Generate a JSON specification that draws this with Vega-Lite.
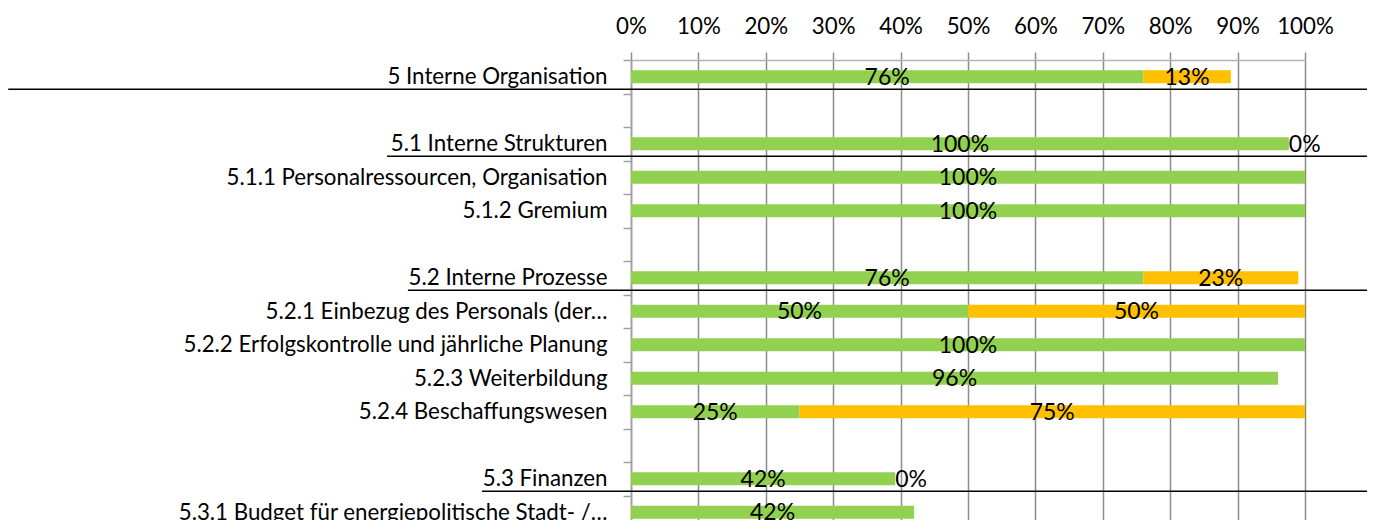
{
  "$schema": "https://vega.github.io/schema/vega-lite/v6.json",
  "width": 674,
  "height": 469,
  "autosize": "none",
  "padding": {"left": 631, "top": 60, "right": 68, "bottom": 0},
  "config": {"font": "Lato", "view": {"stroke": null}},
  "datasets": {
    "bars": [
      {"cat": "5 Interne Organisation", "status": "umgesetzt", "ord": 1, "value": 76, "label": "76%"},
      {"cat": "5 Interne Organisation", "status": "teilweise", "ord": 2, "value": 13, "label": "13%"},
      {"cat": "5.1 Interne Strukturen", "status": "umgesetzt", "ord": 1, "value": 97.6, "label": "100%"},
      {"cat": "5.1 Interne Strukturen", "status": "teilweise", "ord": 2, "value": 0, "label": "0%"},
      {"cat": "5.1.1 Personalressourcen, Organisation", "status": "umgesetzt", "ord": 1, "value": 100, "label": "100%"},
      {"cat": "5.1.2 Gremium", "status": "umgesetzt", "ord": 1, "value": 100, "label": "100%"},
      {"cat": "5.2 Interne Prozesse", "status": "umgesetzt", "ord": 1, "value": 76, "label": "76%"},
      {"cat": "5.2 Interne Prozesse", "status": "teilweise", "ord": 2, "value": 23, "label": "23%"},
      {"cat": "5.2.1 Einbezug des Personals (der…", "status": "umgesetzt", "ord": 1, "value": 50, "label": "50%"},
      {"cat": "5.2.1 Einbezug des Personals (der…", "status": "teilweise", "ord": 2, "value": 50, "label": "50%"},
      {"cat": "5.2.2 Erfolgskontrolle und jährliche Planung", "status": "umgesetzt", "ord": 1, "value": 100, "label": "100%"},
      {"cat": "5.2.3 Weiterbildung", "status": "umgesetzt", "ord": 1, "value": 96, "label": "96%"},
      {"cat": "5.2.4 Beschaffungswesen", "status": "umgesetzt", "ord": 1, "value": 25, "label": "25%"},
      {"cat": "5.2.4 Beschaffungswesen", "status": "teilweise", "ord": 2, "value": 75, "label": "75%"},
      {"cat": "5.3 Finanzen", "status": "umgesetzt", "ord": 1, "value": 39.2, "label": "42%"},
      {"cat": "5.3 Finanzen", "status": "teilweise", "ord": 2, "value": 0, "label": "0%"},
      {"cat": "5.3.1 Budget für energiepolitische Stadt- /…", "status": "umgesetzt", "ord": 1, "value": 42, "label": "42%"}
    ],
    "underlines": [
      {"cat": "5 Interne Organisation", "from": -92.4, "to": 109.2},
      {"cat": "5.1 Interne Strukturen", "from": -36.2, "to": 109.2},
      {"cat": "5.2 Interne Prozesse", "from": -33.1, "to": 109.2},
      {"cat": "5.3 Finanzen", "from": -22.1, "to": 109.2}
    ]
  },
  "layer": [
    {
      "data": {"name": "bars"},
      "transform": [
        {"stack": "value", "groupby": ["cat"], "sort": [{"field": "ord"}], "as": ["v0", "v1"]}
      ],
      "mark": {"type": "bar", "size": 13},
      "encoding": {
        "y": {
          "field": "cat", "type": "nominal", "title": null,
          "scale": {
            "domain": ["5 Interne Organisation", " ", "5.1 Interne Strukturen", "5.1.1 Personalressourcen, Organisation", "5.1.2 Gremium", "  ", "5.2 Interne Prozesse", "5.2.1 Einbezug des Personals (der…", "5.2.2 Erfolgskontrolle und jährliche Planung", "5.2.3 Weiterbildung", "5.2.4 Beschaffungswesen", "   ", "5.3 Finanzen", "5.3.1 Budget für energiepolitische Stadt- /…"],
            "paddingInner": 0, "paddingOuter": 0
          },
          "axis": {
            "orient": "left", "tickBand": "extent", "tickSize": 8,
            "tickColor": "#a0a0a0", "tickWidth": 1.5, "domainColor": "#a0a0a0", "domainWidth": 1.5,
            "labelFontSize": 22.3, "labelColor": "#000000", "labelPadding": 16, "labelLimit": 800,
            "labelBaseline": "middle", "grid": false
          }
        },
        "x": {
          "field": "v0", "type": "quantitative", "title": null,
          "scale": {"domain": [0, 100], "nice": false},
          "axis": {
            "orient": "top", "values": [0, 10, 20, 30, 40, 50, 60, 70, 80, 90, 100],
            "labelExpr": "datum.value + '%'", "grid": true, "gridColor": "#8c8c8c", "gridWidth": 1.5,
            "tickSize": 8, "tickColor": "#8c8c8c", "tickWidth": 1.5, "domainColor": "#b4b4b4", "domainWidth": 1.5,
            "labelFontSize": 22.3, "labelColor": "#000000", "labelPadding": 14, "labelFlush": false
          }
        },
        "x2": {"field": "v1"},
        "color": {
          "field": "status", "type": "nominal",
          "scale": {"domain": ["umgesetzt", "teilweise"], "range": ["#92D050", "#FFC000"]},
          "legend": null
        }
      }
    },
    {
      "data": {"name": "bars"},
      "transform": [
        {"stack": "value", "groupby": ["cat"], "sort": [{"field": "ord"}], "as": ["v0", "v1"]},
        {"filter": "datum.value > 0"},
        {"calculate": "(datum.v0 + datum.v1) / 2", "as": "mid"}
      ],
      "mark": {"type": "text", "fontSize": 23, "color": "#000000", "baseline": "middle", "align": "center", "dy": 1},
      "encoding": {
        "y": {"field": "cat", "type": "nominal", "title": null},
        "x": {"field": "mid", "type": "quantitative", "title": null},
        "text": {"field": "label"}
      }
    },
    {
      "data": {"name": "bars"},
      "transform": [
        {"stack": "value", "groupby": ["cat"], "sort": [{"field": "ord"}], "as": ["v0", "v1"]},
        {"filter": "datum.value == 0"}
      ],
      "mark": {"type": "text", "fontSize": 23, "color": "#000000", "baseline": "middle", "align": "left", "dy": 1},
      "encoding": {
        "y": {"field": "cat", "type": "nominal", "title": null},
        "x": {"field": "v0", "type": "quantitative", "title": null},
        "text": {"field": "label"}
      }
    },
    {
      "data": {"name": "underlines"},
      "mark": {"type": "rule", "color": "#000000", "strokeWidth": 1.5, "clip": false},
      "encoding": {
        "y": {"field": "cat", "type": "nominal", "bandPosition": 0.87, "title": null},
        "x": {"field": "from", "type": "quantitative", "title": null},
        "x2": {"field": "to"}
      }
    }
  ]
}
